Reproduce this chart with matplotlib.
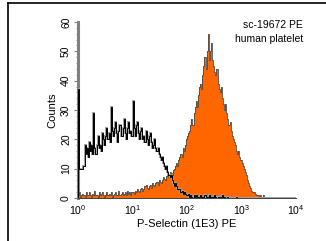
import numpy as np
import matplotlib
matplotlib.use("Agg")
import matplotlib.pyplot as plt
from matplotlib.lines import Line2D

plt.rcParams['font.family'] = ['Liberation Sans', 'DejaVu Sans']
plt.rcParams['mathtext.fontset'] = 'custom'
plt.rcParams['mathtext.rm'] = 'Liberation Sans'
plt.rcParams['mathtext.it'] = 'Liberation Sans'

# log10 channels over 4 decades (200 channels)
n_bins = 200
log_lo, log_hi = 0.0, 4.0

# isotype control (black outline)
control = [37, 10, 10, 10, 10, 11, 18, 15, 17, 14,
           19, 16, 18, 15, 29, 17, 15, 18, 21, 17,
           18, 16, 22, 20, 18, 21, 24, 20, 22, 19,
           31, 23, 21, 24, 26, 22, 19, 23, 25, 21,
           21, 24, 27, 22, 20, 24, 26, 22, 23, 21,
           33, 24, 21, 25, 26, 22, 20, 23, 24, 20,
           21, 19, 23, 20, 18, 21, 22, 19, 17, 18,
           20, 17, 16, 17, 15, 14, 13, 14, 12, 11,
           10, 11, 9, 8, 7, 8, 6, 5, 4, 5,
           4, 3, 3, 3, 2, 2.5, 1.5, 2, 1.5, 1,
           1, 1.5, 0.5, 1, 0.5, 0, 1, 0.5, 1, 0.5,
           0, 0.5, 1, 0.5, 0.5, 0, 1, 0.5, 0, 0.5,
           1, 0, 0.5, 0.5, 0, 1, 0.5, 0, 0.5, 0,
           0.5, 0, 1, 0, 0.5, 0, 0, 0.5, 0, 0,
           0, 0, 0, 0, 0, 0.5, 0, 0, 0, 0,
           0, 0, 0, 0, 0, 0, 0, 0, 0, 0,
           0, 0, 0, 0, 0, 0, 0, 0, 0, 0,
           0, 0, 0, 0, 0, 0, 0, 0, 0, 0,
           0, 0, 0, 0, 0, 0, 0, 0, 0, 0,
           0, 0, 0, 0, 0, 0, 0, 0, 0, 0]

# sc-19672 PE stained platelets (orange fill)
stained = [1, 2, 0.5, 1, 1.5, 1, 0.5, 2, 1, 1,
           2, 1, 0.5, 1.5, 1, 2.5, 1, 1, 0.5, 2,
           1, 1.5, 2, 1, 0.5, 1, 2, 1, 1.5, 1,
           2, 0.5, 1, 1.5, 2, 1, 1, 2.5, 1, 1.5,
           2, 1, 1.5, 2, 1, 2.5, 1.5, 2, 1, 2,
           2, 1.5, 2.5, 2, 3, 2.5, 2, 3, 3.5, 2.5,
           3, 4, 4.5, 3.5, 3, 4, 4.5, 3.5, 5, 4.5,
           4, 5, 5.5, 4.5, 6, 5.5, 5, 6, 7, 6.5,
           6, 7.5, 8, 7, 9, 8.5, 8, 9.5, 10, 11,
           12, 11, 13, 14, 15, 14, 17, 16, 18, 20,
           21, 22, 23, 25, 27, 25, 29, 31, 33, 31,
           35, 38, 39, 37, 42, 45, 48, 44, 50, 56,
           47, 50, 53, 47, 45, 43, 42, 44, 39, 37,
           36, 38, 34, 32, 30, 32, 29, 27, 25, 26,
           23, 21, 20, 19, 18, 16, 15, 16, 14, 13,
           12, 11, 10, 9, 8, 6, 5, 4, 3.5, 2.5,
           2, 2, 1.5, 1, 1, 1, 0.5, 1, 0.5, 0.5,
           1, 0.5, 0.5, 0, 0.5, 0.5, 0, 0.5, 0, 0,
           0, 0, 0, 0, 0, 0, 0, 0, 0, 0,
           0, 0, 0, 0, 0, 0, 0, 0, 0, 0]

y_ticks = [0, 10, 20, 30, 40, 50, 60]
x_ticks = [1, 10, 100, 1000, 10000]
x_tick_labels = [r'$10^{0}$', r'$10^{1}$', r'$10^{2}$', r'$10^{3}$', r'$10^{4}$']

edges = 10 ** np.linspace(log_lo, log_hi, n_bins + 1)

fig = plt.figure(figsize=(3.26, 2.41), dpi=100)
ax = fig.add_axes([78 / 326, 43 / 241, 218 / 326, 176 / 241])

ax.stairs(stained, edges, fill=True, color='#ff6600', zorder=2)
ax.stairs(stained, edges, color='#4a4a4a', lw=0.6, zorder=3)
ax.stairs(control, edges, color='#a0a0a0', lw=1.4, zorder=4)
ax.stairs(control, edges, color='black', lw=0.7, zorder=5)

ax.set_xscale('log')
ax.set_xlim(1, 1e4)
ax.set_ylim(0, 60)

for s in ['top', 'right']:
    ax.spines[s].set_visible(False)
ax.spines['left'].set_color('#808080')
ax.spines['left'].set_linewidth(2.2)
ax.spines['bottom'].set_color('#404040')
ax.spines['bottom'].set_linewidth(0.7)
ax.spines['bottom'].set_bounds(1, 1e4)

ax.set_yticks(y_ticks)
ax.set_yticks(np.arange(0, 61, 2), minor=True)
ax.tick_params(axis='y', which='major', length=3, width=0.8, color='#808080',
               labelsize=7.5, pad=2)
ax.tick_params(axis='y', which='minor', length=1.8, width=0.6, color='#808080')
for lab in ax.get_yticklabels():
    lab.set_rotation(90)
    lab.set_va('center')

ax.set_xticks(x_ticks)
ax.set_xticklabels(x_tick_labels)
ax.xaxis.set_minor_locator(matplotlib.ticker.NullLocator())
ax.tick_params(axis='x', which='major', length=0, labelsize=7.5, pad=4)

ax.set_ylabel('Counts', fontsize=8, labelpad=3)
ax.set_xlabel('P-Selectin (1E3) PE', fontsize=8, labelpad=1)

fig.text(303 / 326, 1 - 25 / 241, 'sc-19672 PE', ha='right', va='center', fontsize=7.5)
fig.text(303 / 326, 1 - 39 / 241, 'human platelet', ha='right', va='center', fontsize=7.5)

# outer frame (left and top edges)
fig.add_artist(Line2D([8 / 326, 8 / 326], [0, 1 - 3 / 241], color='black', lw=1.2,
                      transform=fig.transFigure))
fig.add_artist(Line2D([8 / 326, 1], [1 - 3 / 241, 1 - 3 / 241], color='black', lw=1.2,
                      transform=fig.transFigure))

fig.savefig('out.png', dpi=100)
